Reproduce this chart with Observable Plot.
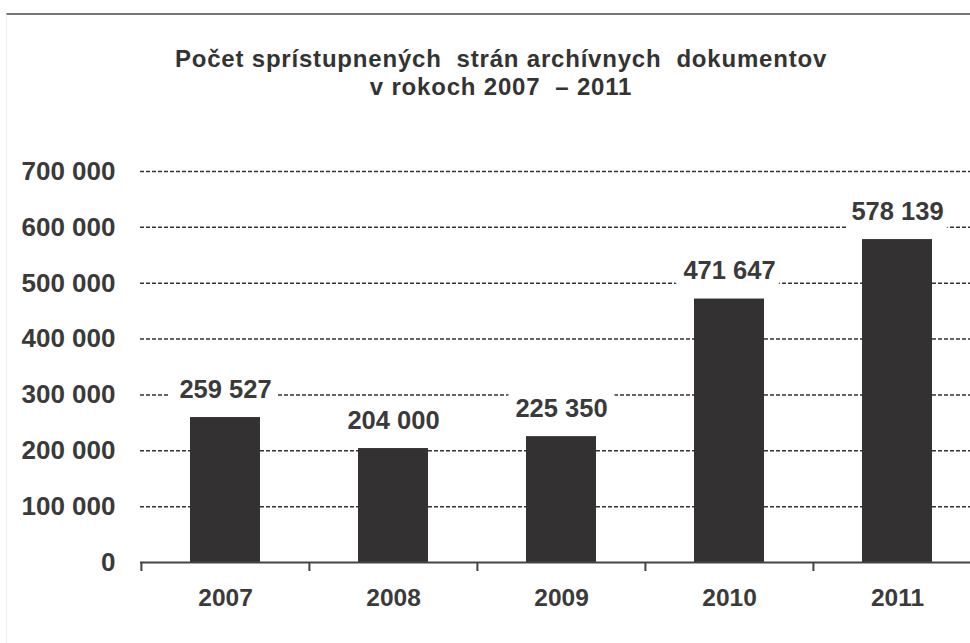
<!DOCTYPE html>
<html>
<head>
<meta charset="utf-8">
<script src="https://cdn.jsdelivr.net/npm/d3@7"></script>
<script src="https://cdn.jsdelivr.net/npm/@observablehq/plot@0.6"></script>
<style>
  html, body { margin: 0; padding: 0; background: #fff; overflow: hidden; }
  body { width: 970px; height: 643px; position: relative; font-family: "Liberation Sans", Arial, sans-serif; }
  #frame { position: absolute; left: 6px; top: 13px; width: 964px; height: 630px; border-top: 2px solid #777; border-left: 1px solid #eee; }
  #title { position: absolute; left: 32px; width: 938px; top: 45px; text-align: center; font-weight: bold; font-size: 24px; letter-spacing: 0.8px; line-height: 28px; color: #333; }
  #chart { position: absolute; left: 0; top: 120px; }
</style>
</head>
<body>
<div id="frame"></div>
<div id="title">Počet sprístupnených&nbsp; strán archívnych&nbsp; dokumentov<br>v rokoch 2007 &nbsp;– 2011</div>
<div id="chart"></div>
<script>
const years = ["2007", "2008", "2009", "2010", "2011"];
const values = [259527, 204000, 225350, 471647, 578139];
const yTicks = [0, 100000, 200000, 300000, 400000, 500000, 600000, 700000];

const data = years.map((y, i) => ({year: y, value: values[i]}));
const fmt = d => d3.format(",")(d).replace(/,/g, " ");
const xRange = [140, 981];
const step = (xRange[1] - xRange[0]) / years.length;
const ink = "#333";

const chart = Plot.plot({
  width: 970,
  height: 523,
  marginTop: 51,
  marginBottom: 81,
  marginLeft: 140,
  marginRight: 0,
  style: {fontFamily: "'Liberation Sans', Arial, sans-serif", color: ink, background: "transparent"},
  x: {domain: years, range: xRange, paddingInner: 0.584, paddingOuter: 0.292},
  y: {domain: [0, 700000]},
  marks: [
    Plot.ruleY(yTicks.filter(d => d > 0), {stroke: ink, strokeWidth: 1.5, strokeDasharray: "4,2"}),
    Plot.barY(data, {x: "year", y: "value", fill: "#333131"}),
    Plot.ruleY([0], {stroke: "#444", strokeWidth: 2}),
    Plot.ruleX(years, {x: d => d, y1: 0, y2: 0, dx: -step / 2, insetBottom: -9, stroke: "#444", strokeWidth: 2}),
    Plot.text(data, {x: "year", y: "value", text: d => fmt(d.value), dy: -28, fontSize: 25.5, fontWeight: "bold", fill: "#3a3a3a", stroke: "white", strokeWidth: 22, strokeLinejoin: "round"}),
    Plot.axisY({ticks: yTicks, tickFormat: fmt, tickSize: 0, tickPadding: 25, fontSize: 26, fontWeight: "bold", fill: "#3a3a3a", label: null}),
    Plot.axisX({tickSize: 0, tickPadding: 26, fontSize: 24.5, fontWeight: "bold", fill: "#3a3a3a", label: null})
  ]
});
document.getElementById("chart").appendChild(chart);
</script>
</body>
</html>
